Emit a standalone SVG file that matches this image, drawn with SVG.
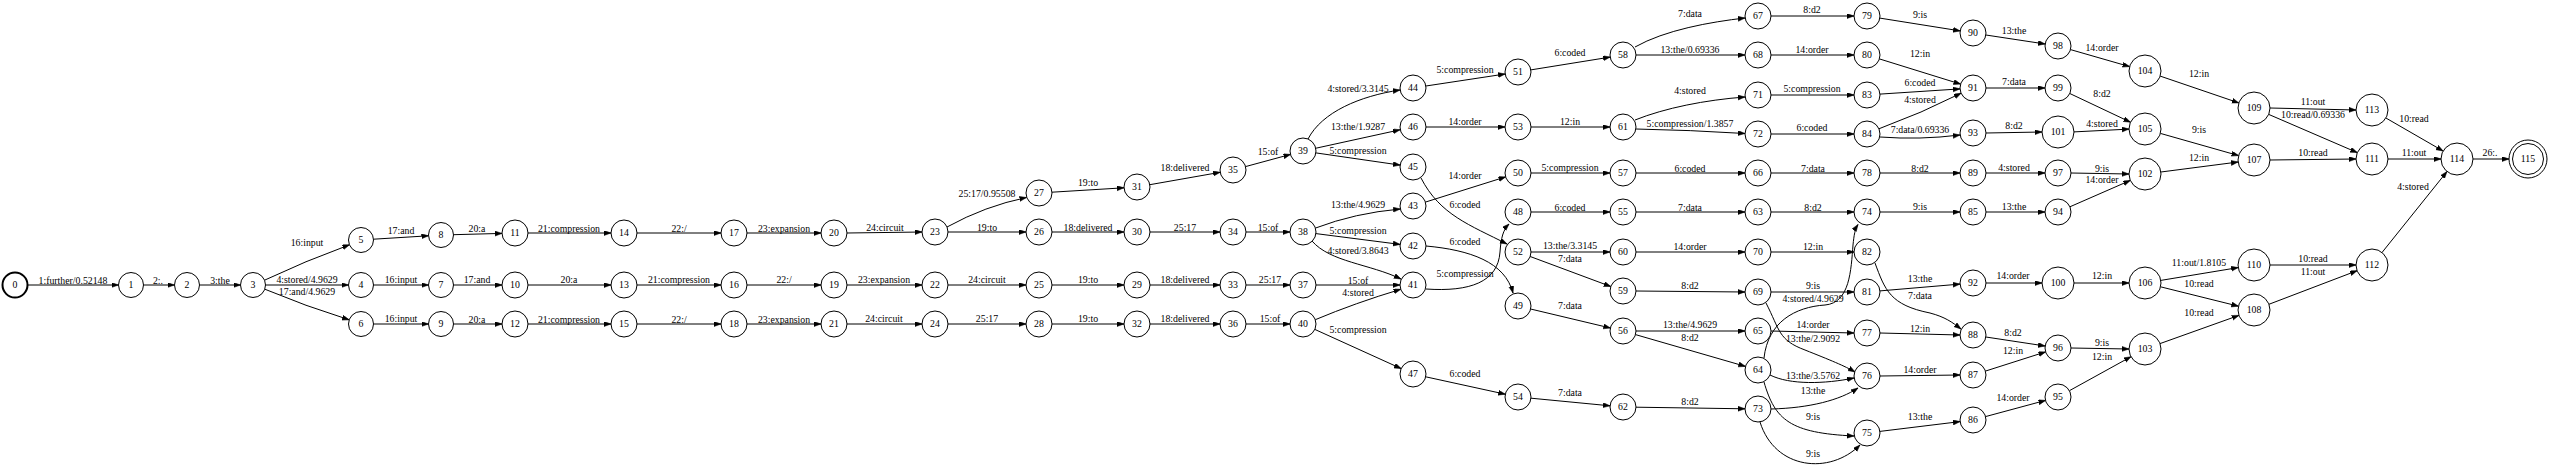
<svg xmlns="http://www.w3.org/2000/svg" width="2550" height="472" viewBox="0 0 2550 472">
<style>
text{font-family:"Liberation Serif","Times New Roman",serif;font-size:9.8px;fill:#000;text-anchor:middle}
.node circle{fill:#fff;stroke:#000;stroke-width:1}
.node circle.start{stroke-width:2}
#edges path{fill:none;stroke:#000;stroke-width:1;marker-end:url(#arr)}
</style>
<defs>
<marker id="arr" markerUnits="userSpaceOnUse" markerWidth="8" markerHeight="6" refX="7" refY="2.5" orient="auto"><path d="M0,0 L7,2.5 L0,5 z" fill="#000" stroke="#000" stroke-width="0.5"/></marker>
</defs>
<rect width="2550" height="472" fill="#fff"/>
<g id="edges">
<path d="M27.5,285 H118.5"/><text x="73" y="284">1:further/0.52148</text>
<path d="M143.5,285 H174.5"/><text x="158" y="284">2:.</text>
<path d="M199.5,285 H240.5"/><text x="220" y="284">3:the</text>
<path d="M264.5,280.2 Q305,261 349.5,244.8"/><text x="307" y="246">16:input</text>
<path d="M265.5,285 H348.5"/><text x="307" y="283">4:stored/4.9629</text>
<path d="M264.8,289.2 Q305,306 349.2,319.8"/><text x="307" y="295">17:and/4.9629</text>
<path d="M373.5,239.2 L428.5,235.8"/><text x="401" y="234">17:and</text>
<path d="M373.5,285 H428.5"/><text x="401" y="283">16:input</text>
<path d="M373.5,324 H428.5"/><text x="401" y="322">16:input</text>
<path d="M453.5,234.7 L502,233.4"/><text x="477" y="232">20:a</text>
<path d="M453.5,285 H502"/><text x="477" y="283">17:and</text>
<path d="M453.5,324 H502"/><text x="477" y="323">20:a</text>
<path d="M528,233 H611"/><text x="569" y="232">21:compression</text>
<path d="M528,285 H611"/><text x="569" y="283">20:a</text>
<path d="M528,324 H611"/><text x="569" y="323">21:compression</text>
<path d="M637,233 H721"/><text x="679" y="232">22:/</text>
<path d="M637,285 H721"/><text x="679" y="283">21:compression</text>
<path d="M637,324 H721"/><text x="679" y="323">22:/</text>
<path d="M747,233 H821"/><text x="784" y="232">23:expansion</text>
<path d="M747,285 H821"/><text x="784" y="283">22:/</text>
<path d="M747,324 H821"/><text x="784" y="323">23:expansion</text>
<path d="M847,233 L922,232"/><text x="885" y="231">24:circuit</text>
<path d="M847,285 H922"/><text x="884" y="283">23:expansion</text>
<path d="M847,324 H922"/><text x="884" y="322">24:circuit</text>
<path d="M947,227 Q985,206 1026.5,197.5"/><text x="987" y="197">25:17/0.95508</text>
<path d="M948,232 H1026"/><text x="987" y="231">19:to</text>
<path d="M948,285 H1026"/><text x="987" y="283">24:circuit</text>
<path d="M948,324 H1026"/><text x="987" y="322">25:17</text>
<path d="M1052,192.2 L1124,187.8"/><text x="1088" y="186">19:to</text>
<path d="M1052,232 H1124"/><text x="1088" y="231">18:delivered</text>
<path d="M1052,285 H1124"/><text x="1088" y="283">19:to</text>
<path d="M1052,324 H1124"/><text x="1088" y="322">19:to</text>
<path d="M1149.8,184.7 L1220.2,172.3"/><text x="1185" y="171">18:delivered</text>
<path d="M1150,232 H1220"/><text x="1185" y="231">25:17</text>
<path d="M1150,285 H1220"/><text x="1185" y="283">18:delivered</text>
<path d="M1150,324 H1220"/><text x="1185" y="322">18:delivered</text>
<path d="M1245.5,166.6 L1290.5,154.4"/><text x="1268" y="155">15:of</text>
<path d="M1246,232 H1290"/><text x="1268" y="231">15:of</text>
<path d="M1246,285 H1290"/><text x="1270" y="283">25:17</text>
<path d="M1246,324 H1290"/><text x="1270" y="322">15:of</text>
<path d="M1308,139 C1322,112 1360,96 1400,90"/><text x="1358" y="92">4:stored/3.3145</text>
<path d="M1316,148.2 L1400,129.8"/><text x="1358" y="130">13:the/1.9287</text>
<path d="M1315.9,152.9 L1400.1,165.1"/><text x="1358" y="154">5:compression</text>
<path d="M1315.6,228 Q1355,213 1400.3,209"/><text x="1358" y="208">13:the/4.9629</text>
<path d="M1315.9,233.6 L1400.1,244.4"/><text x="1358" y="234">5:compression</text>
<path d="M1312,241 C1330,262 1370,264 1401,279"/><text x="1358" y="254">4:stored/3.8643</text>
<path d="M1316,285 H1400"/><text x="1358" y="284">15:of</text>
<path d="M1315.3,319.7 Q1355,303 1400.7,289.3"/><text x="1358" y="296">4:stored</text>
<path d="M1314.8,329.4 L1401.2,368.6"/><text x="1358" y="333">5:compression</text>
<path d="M1425.9,86 L1505.1,74"/><text x="1465" y="73">5:compression</text>
<path d="M1426,127 H1505"/><text x="1465" y="125">14:order</text>
<path d="M1425.4,202.1 L1505.6,176.9"/><text x="1465" y="179">14:order</text>
<path d="M1421,178 C1440,215 1470,225 1507,244"/><text x="1465" y="208">6:coded</text>
<path d="M1426,289 C1470,292 1498,282 1500,252 C1501,238 1503,230 1509,224"/><text x="1465" y="277">5:compression</text>
<path d="M1426,246 C1470,250 1505,262 1513,293"/><text x="1465" y="245">6:coded</text>
<path d="M1425.7,376.8 L1505.3,394.2"/><text x="1465" y="377">6:coded</text>
<path d="M1530.8,69.9 L1610.2,57.1"/><text x="1570" y="56">6:coded</text>
<path d="M1531,127 H1610"/><text x="1570" y="125">12:in</text>
<path d="M1531,173 H1610"/><text x="1570" y="171">5:compression</text>
<path d="M1531,212 H1610"/><text x="1570" y="211">6:coded</text>
<path d="M1531,252 H1610"/><text x="1570" y="249">13:the/3.3145</text>
<path d="M1530.2,256.5 L1610.8,286.5"/><text x="1570" y="262">7:data</text>
<path d="M1530.6,309 L1610.4,328"/><text x="1570" y="309">7:data</text>
<path d="M1531,398.2 L1610,405.8"/><text x="1570" y="396">7:data</text>
<path d="M1635,47 C1665,30 1710,22 1745,18"/><text x="1690" y="17">7:data</text>
<path d="M1636,55 H1745"/><text x="1690" y="53">13:the/0.69336</text>
<path d="M1635,120 C1665,108 1705,100 1745,97"/><text x="1690" y="94">4:stored</text>
<path d="M1636,129 Q1690,130 1745,133.5"/><text x="1690" y="127">5:compression/1.3857</text>
<path d="M1636,173 H1745"/><text x="1690" y="172">6:coded</text>
<path d="M1636,212 H1745"/><text x="1690" y="211">7:data</text>
<path d="M1636,252 H1745"/><text x="1690" y="250">14:order</text>
<path d="M1636,291 L1745,292"/><text x="1690" y="289">8:d2</text>
<path d="M1636,331 H1745"/><text x="1690" y="328">13:the/4.9629</text>
<path d="M1635.5,334.6 L1745.5,366.4"/><text x="1690" y="341">8:d2</text>
<path d="M1636,407.2 L1745,408.8"/><text x="1690" y="405">8:d2</text>
<path d="M1771,16 H1854"/><text x="1812" y="13">8:d2</text>
<path d="M1771,55 H1854"/><text x="1812" y="53">14:order</text>
<path d="M1771,95 H1854"/><text x="1812" y="92">5:compression</text>
<path d="M1771,134 H1854"/><text x="1812" y="131">6:coded</text>
<path d="M1771,173 H1854"/><text x="1813" y="172">7:data</text>
<path d="M1771,212 H1854"/><text x="1813" y="211">8:d2</text>
<path d="M1771,252 H1854"/><text x="1813" y="250">12:in</text>
<path d="M1771,292 H1854"/><text x="1813" y="289">9:is</text>
<path d="M1764,358 C1768,322 1795,307 1825,305 C1850,303 1851,270 1853,245 C1854,235 1855,229 1858,224.5"/><text x="1813" y="302">4:stored/4.9629</text>
<path d="M1771,331 L1854,333"/><text x="1813" y="328">14:order</text>
<path d="M1766,303 C1780,330 1778,340 1805,350 C1830,360 1845,366 1855,372"/><text x="1813" y="342">13:the/2.9092</text>
<path d="M1770,375 C1790,385 1825,384 1854,378"/><text x="1813" y="379">13:the/3.5762</text>
<path d="M1771,409 C1810,408 1840,400 1858,388"/><text x="1813" y="394">13:the</text>
<path d="M1764,382 C1775,420 1790,433 1854,436"/><text x="1813" y="420">9:is</text>
<path d="M1760,422 C1775,470 1830,475 1860,445"/><text x="1813" y="457">9:is</text>
<path d="M1879.8,18.1 L1960.2,30.9"/><text x="1920" y="18">9:is</text>
<path d="M1879.4,58.9 L1960.6,84.1"/><text x="1920" y="57">12:in</text>
<path d="M1880,94.1 L1960,88.9"/><text x="1920" y="86">6:coded</text>
<path d="M1878.9,128.8 Q1922,113 1961.1,93.2"/><text x="1920" y="103">4:stored</text>
<path d="M1880,137 Q1920,140 1960,135"/><text x="1920" y="133">7:data/0.69336</text>
<path d="M1880,173 H1960"/><text x="1920" y="172">8:d2</text>
<path d="M1880,212 H1960"/><text x="1920" y="210">9:is</text>
<path d="M1875,263 C1885,290 1890,305 1930,313 C1945,317 1952,322 1961,329"/><text x="1920" y="299">7:data</text>
<path d="M1880,290.9 L1960,284.1"/><text x="1920" y="282">13:the</text>
<path d="M1880,333 L1960,335"/><text x="1920" y="332">12:in</text>
<path d="M1880,376 L1960,375"/><text x="1920" y="373">14:order</text>
<path d="M1879.9,431.4 L1960.1,421.6"/><text x="1920" y="420">13:the</text>
<path d="M1985.9,35 L2045.1,44"/><text x="2014" y="34">13:the</text>
<path d="M1986,88 H2045"/><text x="2014" y="85">7:data</text>
<path d="M1986,133 L2042,132"/><text x="2014" y="129">8:d2</text>
<path d="M1986,173 H2045"/><text x="2014" y="171">4:stored</text>
<path d="M1986,212 H2045"/><text x="2014" y="210">13:the</text>
<path d="M1986,283 H2042"/><text x="2013" y="279">14:order</text>
<path d="M1985.9,337 L2045.1,346"/><text x="2013" y="336">8:d2</text>
<path d="M1985.4,371.1 L2045.6,351.9"/><text x="2013" y="354">12:in</text>
<path d="M1985.5,416.6 L2045.5,400.4"/><text x="2013" y="401">14:order</text>
<path d="M2070.5,49.6 L2129.6,66.6"/><text x="2102" y="51">14:order</text>
<path d="M2069.8,93.5 L2130.5,122.2"/><text x="2102" y="97">8:d2</text>
<path d="M2074,131.9 L2129,129.1"/><text x="2102" y="127">4:stored</text>
<path d="M2071,173 L2129,174"/><text x="2102" y="172">9:is</text>
<path d="M2069.9,206.8 L2130.3,180.4"/><text x="2102" y="183">14:order</text>
<path d="M2074,283 H2129"/><text x="2102" y="279">12:in</text>
<path d="M2071,348 L2129,349"/><text x="2102" y="346">9:is</text>
<path d="M2069.4,390.7 L2131,356.7"/><text x="2102" y="360">12:in</text>
<path d="M2160.2,76.1 L2238.8,102.9"/><text x="2199" y="77">12:in</text>
<path d="M2160.4,133.4 L2238.6,155.6"/><text x="2199" y="133">9:is</text>
<path d="M2160.9,172 L2238.1,162"/><text x="2199" y="161">12:in</text>
<path d="M2160.8,280.4 L2238.2,267.6"/><text x="2199" y="266">11:out/1.8105</text>
<path d="M2160.5,286.8 L2238.5,306.2"/><text x="2199" y="287">10:read</text>
<path d="M2160,343.6 L2238.9,315.4"/><text x="2199" y="316">10:read</text>
<path d="M2270,108 L2356,110"/><text x="2313" y="105">11:out</text>
<path d="M2268.7,114.4 L2357.3,152.6"/><text x="2313" y="118">10:read/0.69336</text>
<path d="M2270,160 L2356,159"/><text x="2313" y="156">10:read</text>
<path d="M2270,265 H2356"/><text x="2313" y="262">10:read</text>
<path d="M2268.9,304.3 L2357.1,270.7"/><text x="2313" y="275">11:out</text>
<path d="M2385.9,118 L2443.1,151"/><text x="2414" y="122">10:read</text>
<path d="M2388,159 H2441"/><text x="2414" y="156">11:out</text>
<path d="M2382,252.5 L2447,171.5"/><text x="2413" y="190">4:stored</text>
<path d="M2473,159 H2509"/><text x="2490" y="156">26:.</text>
</g>
<g id="n0" class="node"><circle class="start" cx="15" cy="285" r="12.5"/><text x="15" y="288.4">0</text></g>
<g id="n1" class="node"><circle cx="131" cy="285" r="12.5"/><text x="131" y="288.4">1</text></g>
<g id="n2" class="node"><circle cx="187" cy="285" r="12.5"/><text x="187" y="288.4">2</text></g>
<g id="n3" class="node"><circle cx="253" cy="285" r="12.5"/><text x="253" y="288.4">3</text></g>
<g id="n4" class="node"><circle cx="361" cy="285" r="12.5"/><text x="361" y="288.4">4</text></g>
<g id="n5" class="node"><circle cx="361" cy="240" r="12.5"/><text x="361" y="243.4">5</text></g>
<g id="n6" class="node"><circle cx="361" cy="324" r="12.5"/><text x="361" y="327.4">6</text></g>
<g id="n7" class="node"><circle cx="441" cy="285" r="12.5"/><text x="441" y="288.4">7</text></g>
<g id="n8" class="node"><circle cx="441" cy="235" r="12.5"/><text x="441" y="238.4">8</text></g>
<g id="n9" class="node"><circle cx="441" cy="324" r="12.5"/><text x="441" y="327.4">9</text></g>
<g id="n10" class="node"><circle cx="515" cy="285" r="13"/><text x="515" y="288.4">10</text></g>
<g id="n11" class="node"><circle cx="515" cy="233" r="13"/><text x="515" y="236.4">11</text></g>
<g id="n12" class="node"><circle cx="515" cy="324" r="13"/><text x="515" y="327.4">12</text></g>
<g id="n13" class="node"><circle cx="624" cy="285" r="13"/><text x="624" y="288.4">13</text></g>
<g id="n14" class="node"><circle cx="624" cy="233" r="13"/><text x="624" y="236.4">14</text></g>
<g id="n15" class="node"><circle cx="624" cy="324" r="13"/><text x="624" y="327.4">15</text></g>
<g id="n16" class="node"><circle cx="734" cy="285" r="13"/><text x="734" y="288.4">16</text></g>
<g id="n17" class="node"><circle cx="734" cy="233" r="13"/><text x="734" y="236.4">17</text></g>
<g id="n18" class="node"><circle cx="734" cy="324" r="13"/><text x="734" y="327.4">18</text></g>
<g id="n19" class="node"><circle cx="834" cy="285" r="13"/><text x="834" y="288.4">19</text></g>
<g id="n20" class="node"><circle cx="834" cy="233" r="13"/><text x="834" y="236.4">20</text></g>
<g id="n21" class="node"><circle cx="834" cy="324" r="13"/><text x="834" y="327.4">21</text></g>
<g id="n22" class="node"><circle cx="935" cy="285" r="13"/><text x="935" y="288.4">22</text></g>
<g id="n23" class="node"><circle cx="935" cy="232" r="13"/><text x="935" y="235.4">23</text></g>
<g id="n24" class="node"><circle cx="935" cy="324" r="13"/><text x="935" y="327.4">24</text></g>
<g id="n25" class="node"><circle cx="1039" cy="285" r="13"/><text x="1039" y="288.4">25</text></g>
<g id="n26" class="node"><circle cx="1039" cy="232" r="13"/><text x="1039" y="235.4">26</text></g>
<g id="n27" class="node"><circle cx="1039" cy="193" r="13"/><text x="1039" y="196.4">27</text></g>
<g id="n28" class="node"><circle cx="1039" cy="324" r="13"/><text x="1039" y="327.4">28</text></g>
<g id="n29" class="node"><circle cx="1137" cy="285" r="13"/><text x="1137" y="288.4">29</text></g>
<g id="n30" class="node"><circle cx="1137" cy="232" r="13"/><text x="1137" y="235.4">30</text></g>
<g id="n31" class="node"><circle cx="1137" cy="187" r="13"/><text x="1137" y="190.4">31</text></g>
<g id="n32" class="node"><circle cx="1137" cy="324" r="13"/><text x="1137" y="327.4">32</text></g>
<g id="n33" class="node"><circle cx="1233" cy="285" r="13"/><text x="1233" y="288.4">33</text></g>
<g id="n34" class="node"><circle cx="1233" cy="232" r="13"/><text x="1233" y="235.4">34</text></g>
<g id="n35" class="node"><circle cx="1233" cy="170" r="13"/><text x="1233" y="173.4">35</text></g>
<g id="n36" class="node"><circle cx="1233" cy="324" r="13"/><text x="1233" y="327.4">36</text></g>
<g id="n37" class="node"><circle cx="1303" cy="285" r="13"/><text x="1303" y="288.4">37</text></g>
<g id="n38" class="node"><circle cx="1303" cy="232" r="13"/><text x="1303" y="235.4">38</text></g>
<g id="n39" class="node"><circle cx="1303" cy="151" r="13"/><text x="1303" y="154.4">39</text></g>
<g id="n40" class="node"><circle cx="1303" cy="324" r="13"/><text x="1303" y="327.4">40</text></g>
<g id="n41" class="node"><circle cx="1413" cy="285" r="13"/><text x="1413" y="288.4">41</text></g>
<g id="n42" class="node"><circle cx="1413" cy="246" r="13"/><text x="1413" y="249.4">42</text></g>
<g id="n43" class="node"><circle cx="1413" cy="206" r="13"/><text x="1413" y="209.4">43</text></g>
<g id="n44" class="node"><circle cx="1413" cy="88" r="13"/><text x="1413" y="91.4">44</text></g>
<g id="n45" class="node"><circle cx="1413" cy="167" r="13"/><text x="1413" y="170.4">45</text></g>
<g id="n46" class="node"><circle cx="1413" cy="127" r="13"/><text x="1413" y="130.4">46</text></g>
<g id="n47" class="node"><circle cx="1413" cy="374" r="13"/><text x="1413" y="377.4">47</text></g>
<g id="n48" class="node"><circle cx="1518" cy="212" r="13"/><text x="1518" y="215.4">48</text></g>
<g id="n49" class="node"><circle cx="1518" cy="306" r="13"/><text x="1518" y="309.4">49</text></g>
<g id="n50" class="node"><circle cx="1518" cy="173" r="13"/><text x="1518" y="176.4">50</text></g>
<g id="n51" class="node"><circle cx="1518" cy="72" r="13"/><text x="1518" y="75.4">51</text></g>
<g id="n52" class="node"><circle cx="1518" cy="252" r="13"/><text x="1518" y="255.4">52</text></g>
<g id="n53" class="node"><circle cx="1518" cy="127" r="13"/><text x="1518" y="130.4">53</text></g>
<g id="n54" class="node"><circle cx="1518" cy="397" r="13"/><text x="1518" y="400.4">54</text></g>
<g id="n55" class="node"><circle cx="1623" cy="212" r="13"/><text x="1623" y="215.4">55</text></g>
<g id="n56" class="node"><circle cx="1623" cy="331" r="13"/><text x="1623" y="334.4">56</text></g>
<g id="n57" class="node"><circle cx="1623" cy="173" r="13"/><text x="1623" y="176.4">57</text></g>
<g id="n58" class="node"><circle cx="1623" cy="55" r="13"/><text x="1623" y="58.4">58</text></g>
<g id="n59" class="node"><circle cx="1623" cy="291" r="13"/><text x="1623" y="294.4">59</text></g>
<g id="n60" class="node"><circle cx="1623" cy="252" r="13"/><text x="1623" y="255.4">60</text></g>
<g id="n61" class="node"><circle cx="1623" cy="127" r="13"/><text x="1623" y="130.4">61</text></g>
<g id="n62" class="node"><circle cx="1623" cy="407" r="13"/><text x="1623" y="410.4">62</text></g>
<g id="n63" class="node"><circle cx="1758" cy="212" r="13"/><text x="1758" y="215.4">63</text></g>
<g id="n64" class="node"><circle cx="1758" cy="370" r="13"/><text x="1758" y="373.4">64</text></g>
<g id="n65" class="node"><circle cx="1758" cy="331" r="13"/><text x="1758" y="334.4">65</text></g>
<g id="n66" class="node"><circle cx="1758" cy="173" r="13"/><text x="1758" y="176.4">66</text></g>
<g id="n67" class="node"><circle cx="1758" cy="16" r="13"/><text x="1758" y="19.4">67</text></g>
<g id="n68" class="node"><circle cx="1758" cy="55" r="13"/><text x="1758" y="58.4">68</text></g>
<g id="n69" class="node"><circle cx="1758" cy="292" r="13"/><text x="1758" y="295.4">69</text></g>
<g id="n70" class="node"><circle cx="1758" cy="252" r="13"/><text x="1758" y="255.4">70</text></g>
<g id="n71" class="node"><circle cx="1758" cy="95" r="13"/><text x="1758" y="98.4">71</text></g>
<g id="n72" class="node"><circle cx="1758" cy="134" r="13"/><text x="1758" y="137.4">72</text></g>
<g id="n73" class="node"><circle cx="1758" cy="409" r="13"/><text x="1758" y="412.4">73</text></g>
<g id="n74" class="node"><circle cx="1867" cy="212" r="13"/><text x="1867" y="215.4">74</text></g>
<g id="n75" class="node"><circle cx="1867" cy="433" r="13"/><text x="1867" y="436.4">75</text></g>
<g id="n76" class="node"><circle cx="1867" cy="376" r="13"/><text x="1867" y="379.4">76</text></g>
<g id="n77" class="node"><circle cx="1867" cy="333" r="13"/><text x="1867" y="336.4">77</text></g>
<g id="n78" class="node"><circle cx="1867" cy="173" r="13"/><text x="1867" y="176.4">78</text></g>
<g id="n79" class="node"><circle cx="1867" cy="16" r="13"/><text x="1867" y="19.4">79</text></g>
<g id="n80" class="node"><circle cx="1867" cy="55" r="13"/><text x="1867" y="58.4">80</text></g>
<g id="n81" class="node"><circle cx="1867" cy="292" r="13"/><text x="1867" y="295.4">81</text></g>
<g id="n82" class="node"><circle cx="1867" cy="252" r="13"/><text x="1867" y="255.4">82</text></g>
<g id="n83" class="node"><circle cx="1867" cy="95" r="13"/><text x="1867" y="98.4">83</text></g>
<g id="n84" class="node"><circle cx="1867" cy="134" r="13"/><text x="1867" y="137.4">84</text></g>
<g id="n85" class="node"><circle cx="1973" cy="212" r="13"/><text x="1973" y="215.4">85</text></g>
<g id="n86" class="node"><circle cx="1973" cy="420" r="13"/><text x="1973" y="423.4">86</text></g>
<g id="n87" class="node"><circle cx="1973" cy="375" r="13"/><text x="1973" y="378.4">87</text></g>
<g id="n88" class="node"><circle cx="1973" cy="335" r="13"/><text x="1973" y="338.4">88</text></g>
<g id="n89" class="node"><circle cx="1973" cy="173" r="13"/><text x="1973" y="176.4">89</text></g>
<g id="n90" class="node"><circle cx="1973" cy="33" r="13"/><text x="1973" y="36.4">90</text></g>
<g id="n91" class="node"><circle cx="1973" cy="88" r="13"/><text x="1973" y="91.4">91</text></g>
<g id="n92" class="node"><circle cx="1973" cy="283" r="13"/><text x="1973" y="286.4">92</text></g>
<g id="n93" class="node"><circle cx="1973" cy="133" r="13"/><text x="1973" y="136.4">93</text></g>
<g id="n94" class="node"><circle cx="2058" cy="212" r="13"/><text x="2058" y="215.4">94</text></g>
<g id="n95" class="node"><circle cx="2058" cy="397" r="13"/><text x="2058" y="400.4">95</text></g>
<g id="n96" class="node"><circle cx="2058" cy="348" r="13"/><text x="2058" y="351.4">96</text></g>
<g id="n97" class="node"><circle cx="2058" cy="173" r="13"/><text x="2058" y="176.4">97</text></g>
<g id="n98" class="node"><circle cx="2058" cy="46" r="13"/><text x="2058" y="49.4">98</text></g>
<g id="n99" class="node"><circle cx="2058" cy="88" r="13"/><text x="2058" y="91.4">99</text></g>
<g id="n100" class="node"><circle cx="2058" cy="283" r="16"/><text x="2058" y="286.4">100</text></g>
<g id="n101" class="node"><circle cx="2058" cy="132" r="16"/><text x="2058" y="135.4">101</text></g>
<g id="n102" class="node"><circle cx="2145" cy="174" r="16"/><text x="2145" y="177.4">102</text></g>
<g id="n103" class="node"><circle cx="2145" cy="349" r="16"/><text x="2145" y="352.4">103</text></g>
<g id="n104" class="node"><circle cx="2145" cy="71" r="16"/><text x="2145" y="74.4">104</text></g>
<g id="n105" class="node"><circle cx="2145" cy="129" r="16"/><text x="2145" y="132.4">105</text></g>
<g id="n106" class="node"><circle cx="2145" cy="283" r="16"/><text x="2145" y="286.4">106</text></g>
<g id="n107" class="node"><circle cx="2254" cy="160" r="16"/><text x="2254" y="163.4">107</text></g>
<g id="n108" class="node"><circle cx="2254" cy="310" r="16"/><text x="2254" y="313.4">108</text></g>
<g id="n109" class="node"><circle cx="2254" cy="108" r="16"/><text x="2254" y="111.4">109</text></g>
<g id="n110" class="node"><circle cx="2254" cy="265" r="16"/><text x="2254" y="268.4">110</text></g>
<g id="n111" class="node"><circle cx="2372" cy="159" r="16"/><text x="2372" y="162.4">111</text></g>
<g id="n112" class="node"><circle cx="2372" cy="265" r="16"/><text x="2372" y="268.4">112</text></g>
<g id="n113" class="node"><circle cx="2372" cy="110" r="16"/><text x="2372" y="113.4">113</text></g>
<g id="n114" class="node"><circle cx="2457" cy="159" r="16"/><text x="2457" y="162.4">114</text></g>
<g id="n115" class="node"><circle cx="2528" cy="159" r="19"/><circle cx="2528" cy="159" r="15.5"/><text x="2528" y="162.4">115</text></g>
</svg>
